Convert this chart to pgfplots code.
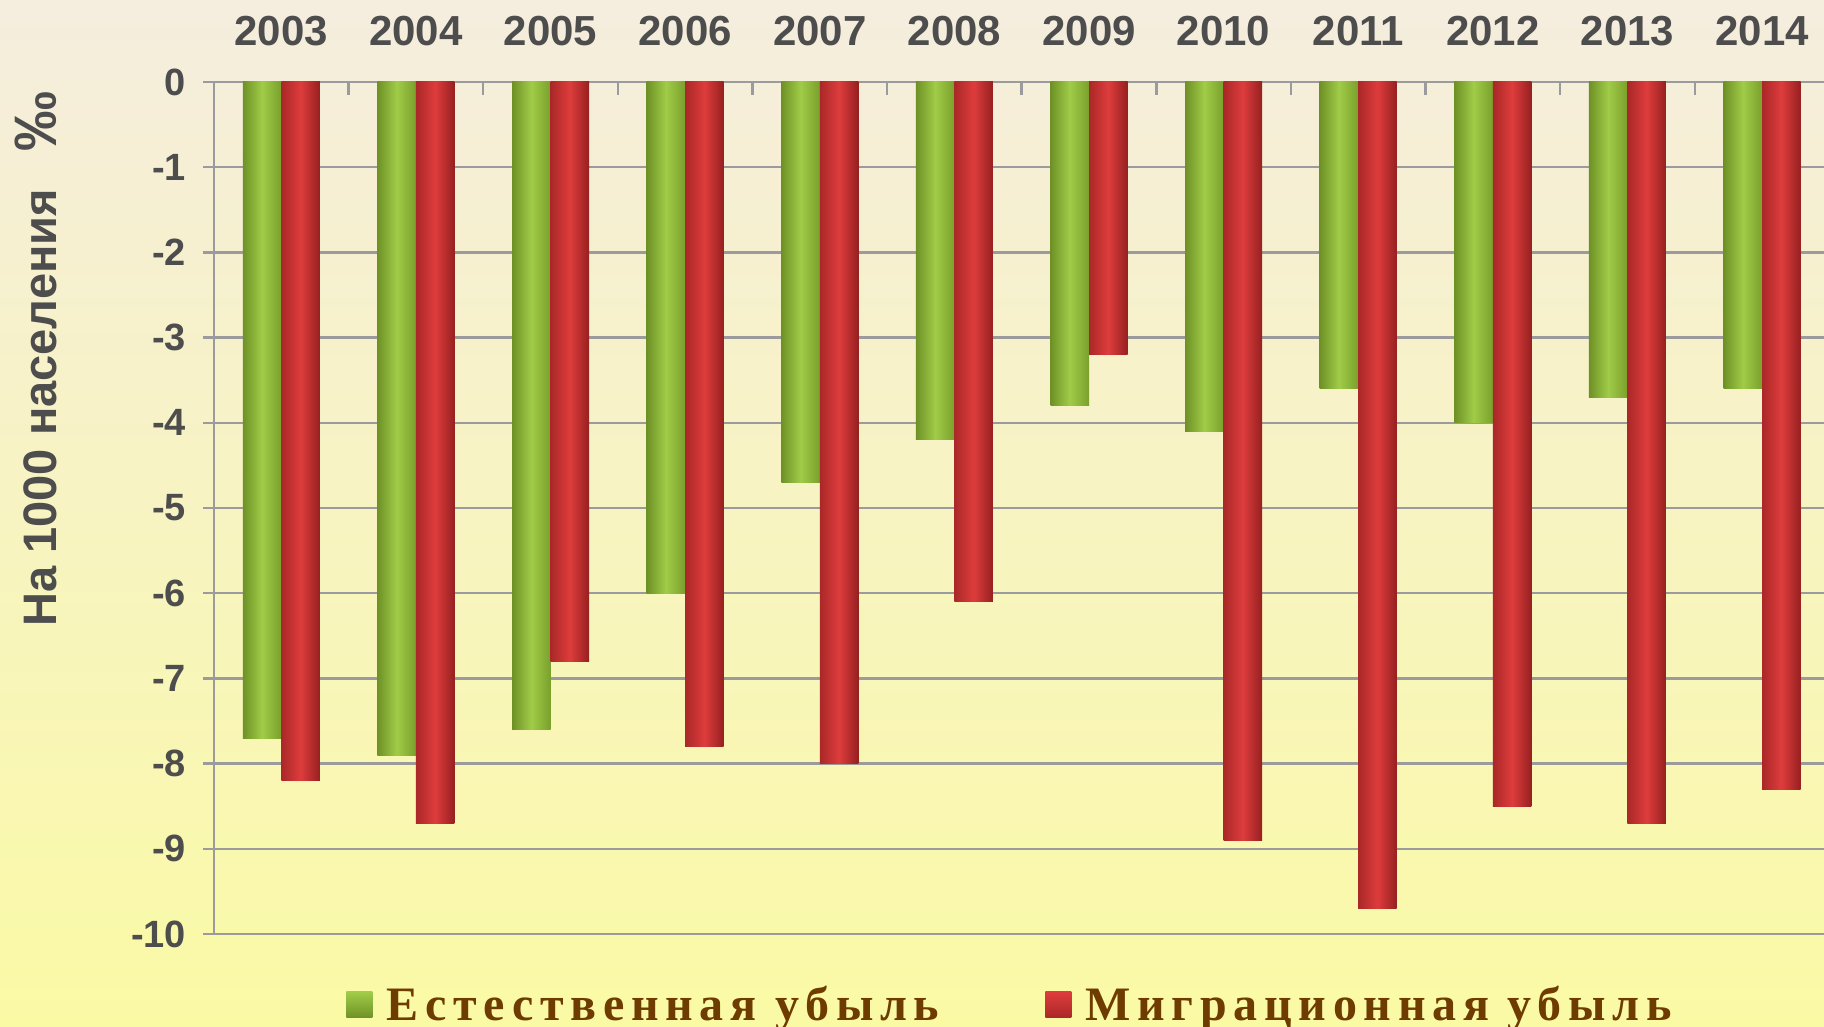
\documentclass[border=0pt]{standalone}
\usepackage{fontspec}
\setmainfont{Liberation Sans}
\newfontfamily\legfont{Liberation Serif}[LetterSpace=14]
\usepackage{pgfplots}
\pgfplotsset{compat=1.18}
\definecolor{bgTop}{RGB}{245,237,222}
\definecolor{bgMid}{RGB}{238,240,218}
\definecolor{bgBot}{RGB}{250,250,165}
\definecolor{gridgray}{RGB}{155,155,158}
\definecolor{txtgray}{RGB}{77,77,77}
\definecolor{legbrown}{RGB}{110,60,0}
\definecolor{gL}{RGB}{110,145,38}
\definecolor{gM}{RGB}{160,204,72}
\definecolor{gR}{RGB}{122,160,44}
\definecolor{rL}{RGB}{170,40,40}
\definecolor{rM}{RGB}{222,60,60}
\definecolor{rR}{RGB}{150,32,32}
\begin{document}
\begin{tikzpicture}
\shade[top color=bgTop, middle color=bgMid, bottom color=bgBot] (0,0) rectangle (912pt,513.5pt);
\path[use as bounding box] (0,0) rectangle (912pt,513.5pt);
\node[rotate=90, text=txtgray, font=\fontsize{23.5pt}{27pt}\selectfont\bfseries] at (18pt,334pt) {На 1000 населения\hspace{0.8em}{\fontsize{30pt}{32pt}\selectfont ‰}};
\begin{axis}[
  at={(107pt,46.5pt)}, anchor=south west,
  scale only axis, width=805pt, height=426pt,
  xmin=-0.5, xmax=11.46, ymin=-10, ymax=0,
  axis x line*=top, axis y line*=left,
  axis line style={draw=gridgray, line width=1.25pt, -},
  tick align=outside,
  major tick length=5.5pt, minor tick length=6.5pt,
  xtick={0,...,11},
  xticklabels={2003,2004,2005,2006,2007,2008,2009,2010,2011,2012,2013,2014},
  minor x tick num=1,
  every major x tick/.append style={draw=none},
  every minor x tick/.append style={yshift=-6.5pt, draw=gridgray, line width=1.25pt},
  every major y tick/.append style={draw=gridgray, line width=1.25pt},
  ytick={-10,-9,-8,-7,-6,-5,-4,-3,-2,-1,0},
  yticklabels={-10,-9,-8,-7,-6,-5,-4,-3,-2,-1,0},
  ymajorgrids,
  major grid style={draw=gridgray, line width=1.25pt},
  xticklabel style={font=\fontsize{21pt}{25pt}\selectfont\bfseries, text=txtgray, yshift=9pt},
  yticklabel style={font=\fontsize{19pt}{23pt}\selectfont\bfseries, text=txtgray, xshift=-5pt},
  legend columns=2,
  legend style={draw=none, fill=none, at={(axis description cs:0,0)}, anchor=south west,
    xshift=63pt, yshift=-49pt,
    font=\fontsize{24pt}{28pt}\selectfont\legfont\bfseries, text=legbrown,
    /tikz/every even column/.append style={column sep=46pt},
    nodes={inner xsep=7pt}},
  gbar/.style={ybar, bar width=0.286, bar shift=-0.143, draw=none,
    left color=gL, right color=gR, middle color=gM, forget plot},
  rbar/.style={ybar, bar width=0.286, bar shift=0.143, draw=none,
    left color=rL, right color=rR, middle color=rM, forget plot},
]
% Естественная убыль
\addplot[gbar] coordinates {(0,-7.7)};
\addplot[gbar] coordinates {(1,-7.9)};
\addplot[gbar] coordinates {(2,-7.6)};
\addplot[gbar] coordinates {(3,-6.0)};
\addplot[gbar] coordinates {(4,-4.7)};
\addplot[gbar] coordinates {(5,-4.2)};
\addplot[gbar] coordinates {(6,-3.8)};
\addplot[gbar] coordinates {(7,-4.1)};
\addplot[gbar] coordinates {(8,-3.6)};
\addplot[gbar] coordinates {(9,-4.0)};
\addplot[gbar] coordinates {(10,-3.7)};
\addplot[gbar] coordinates {(11,-3.6)};
% Миграционная убыль
\addplot[rbar] coordinates {(0,-8.2)};
\addplot[rbar] coordinates {(1,-8.7)};
\addplot[rbar] coordinates {(2,-6.8)};
\addplot[rbar] coordinates {(3,-7.8)};
\addplot[rbar] coordinates {(4,-8.0)};
\addplot[rbar] coordinates {(5,-6.1)};
\addplot[rbar] coordinates {(6,-3.2)};
\addplot[rbar] coordinates {(7,-8.9)};
\addplot[rbar] coordinates {(8,-9.7)};
\addplot[rbar] coordinates {(9,-8.5)};
\addplot[rbar] coordinates {(10,-8.7)};
\addplot[rbar] coordinates {(11,-8.3)};
\addlegendimage{legend image code/.code={\shade[top color=gM, bottom color=gL, draw=none] (0pt,-6.5pt) rectangle (13pt,6.5pt);}}
\addlegendentry{Естественная убыль}
\addlegendimage{legend image code/.code={\shade[top color=rM, bottom color=rL, draw=none] (0pt,-6.5pt) rectangle (13pt,6.5pt);}}
\addlegendentry{Миграционная убыль}
\end{axis}
\end{tikzpicture}
\end{document}
